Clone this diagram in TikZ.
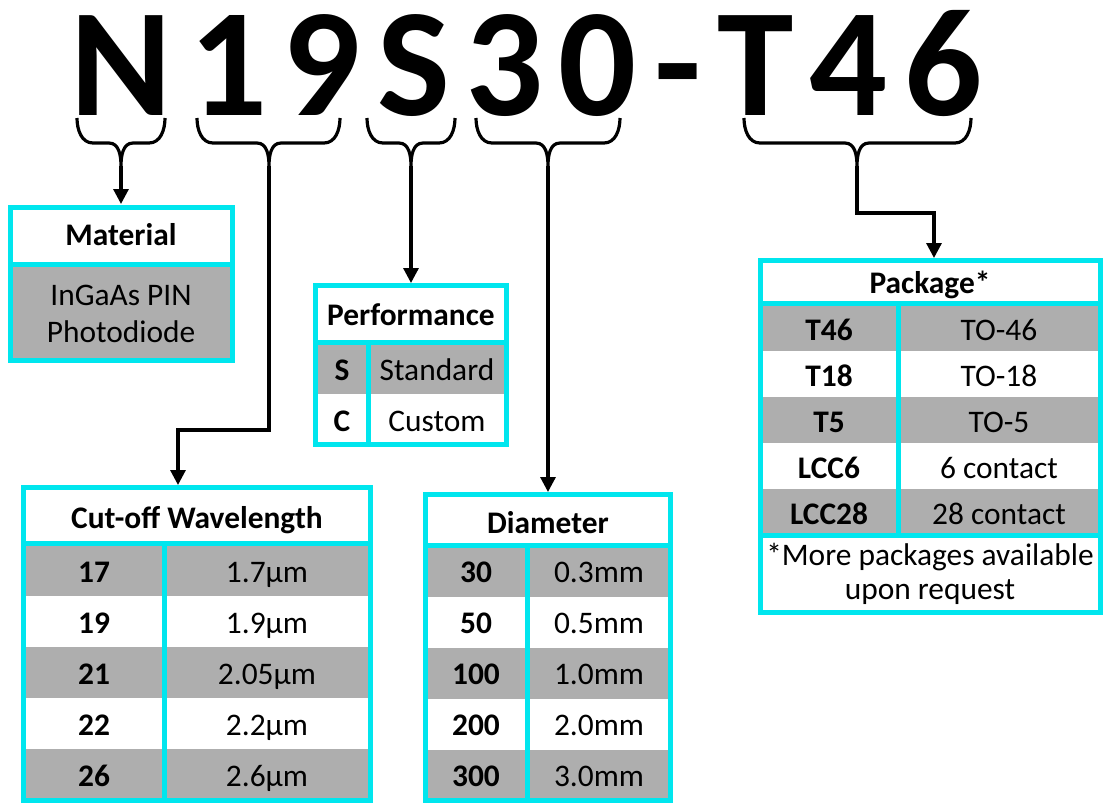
\documentclass[tikz,border=0pt]{standalone}
\usepackage{fontspec}
\setmainfont{Carlito}
\usetikzlibrary{arrows.meta}
\definecolor{boxcyan}{RGB}{0,230,238}
\definecolor{rowgray}{RGB}{174,174,174}
\tikzset{
  frame/.style={draw=boxcyan,line width=2.5pt},
  lbl/.style={anchor=base,inner sep=0pt,font=\fontsize{15.7}{18.8}\selectfont},
  key/.style={lbl,font=\fontsize{15.7}{18.8}\selectfont\bfseries},
  code/.style={anchor=base,inner sep=0pt,font=\fontsize{77}{80}\selectfont\bfseries},
  link/.style={line width=1.6pt,-{Triangle[width=7.5pt,length=7.5pt]}},
  bracket/.style={line width=1.6pt}
}
\newcommand{\partbrace}[4]{%
  \draw[bracket] (#2,118) to[out=-90,in=180] (#2+16,143) -- (#4-12,143)
    to[out=0,in=90] (#4,166) to[out=90,in=180] (#4+12,143) -- (#3-16,143)
    to[out=0,in=-90] (#3,118);
  \coordinate (#1) at (#4,166);}
\begin{document}
\begin{tikzpicture}[x=0.5pt,y=-0.5pt]
	\useasboundingbox (0,0) rectangle (1105,804);
	\foreach \ch/\cx [count=\i] in {N/121.5,1/228.5,9/322,S/414,3/505,0/598,-/678,T/756,4/849,6/944}
		\node[code] (c\i) at (\cx,115) {\ch};
	\partbrace{tipN}{77}{165}{121}
	\partbrace{tip19}{197}{340}{269}
	\partbrace{tipS}{367}{455}{411}
	\partbrace{tip30}{476}{620}{548}
	\partbrace{tipT}{744}{971}{857}
	% material
	\fill[rowgray] (10,264) rectangle (232,360);
	\draw[frame] (10,207) rectangle (232,360) (10,264) -- (232,264);
	\node[key] (mat) at (121,245) {Material};
	\node[lbl] (mat1) at (121,305) {InGaAs PIN};
	\node[lbl] (mat2) at (121,342) {Photodiode};
	% performance
	\fill[rowgray] (315.5,344) rectangle (506.5,394);
	\draw[frame] (315.5,285.5) rectangle (506.5,444.5) (315.5,342) -- (506.5,342) (368,342) -- (368,444.5);
	\node[key] (perf) at (411,325) {Performance};
	\node[key] (perf1) at (342,380) {S};
	\node[lbl] (perfv1) at (437,380) {Standard};
	\node[key] (perf2) at (342,431) {C};
	\node[lbl] (perfv2) at (437,431) {Custom};
	% cut-off wavelength
	\foreach \code/\val [count=\i] in {17/1.7µm,19/1.9µm,21/2.05µm,22/2.2µm,26/2.6µm}{
		\ifodd\i \fill[rowgray] (23.5,{545+51*(\i-1)}) rectangle (370.5,{596+51*(\i-1)}); \fi
		\node[key] (cut\i) at (94,{582+51*(\i-1)}) {\code};
		\node[lbl] (cutv\i) at (267,{582+51*(\i-1)}) {\val};
	}
	\draw[frame] (23.5,487.5) rectangle (370.5,800.5) (23.5,543) -- (370.5,543) (164,543) -- (164,800.5);
	\node[key] (cut) at (197,528) {Cut-off Wavelength};
	% diameter
	\foreach \code/\val [count=\i] in {30/0.3mm,50/0.5mm,100/1.0mm,200/2.0mm,300/3.0mm}{
		\ifodd\i \fill[rowgray] (425.5,{546+51*(\i-1)}) rectangle (670.5,{597+51*(\i-1)}); \fi
		\node[key] (dia\i) at (476,{582+51*(\i-1)}) {\code};
		\node[lbl] (diav\i) at (599,{582+51*(\i-1)}) {\val};
	}
	\draw[frame] (425.5,494.5) rectangle (670.5,800.5) (425.5,545) -- (670.5,545) (527,545) -- (527,800.5);
	\node[key] (dia) at (548,533) {Diameter};
	% package
	\foreach \code/\val [count=\i] in {T46/TO-46,T18/TO-18,T5/TO-5,LCC6/6 contact,LCC28/28 contact}{
		\ifodd\i \fill[rowgray] (760.5,{305+46*(\i-1)}) rectangle (1100.5,{351+46*(\i-1)}); \fi
		\node[key] (pkg\i) at (829,{340+46*(\i-1)}) {\code};
		\node[lbl] (pkgv\i) at (999,{340+46*(\i-1)}) {\val};
	}
	\draw[frame] (760.5,260.5) rectangle (1100.5,612.5) (760.5,303.5) -- (1100.5,303.5)
		(760.5,535) -- (1100.5,535) (898,303.5) -- (898,535);
	\node[key] (pkg) at (930,293) {Package*};
	\node[lbl] (note1) at (930,565) {*More packages available};
	\node[lbl] (note2) at (930,599) {upon request};
	% connectors
	\coordinate (matin) at (121,204);
	\coordinate (bend19) at (269,430);
	\coordinate (cutin) at (178,485);
	\coordinate (perfin) at (411,283);
	\coordinate (diain) at (548,492);
	\coordinate (bendT) at (857,213);
	\coordinate (pkgin) at (934,258);
	\draw[link] (tipN) -- (matin);
	\draw[link] (tip19) -- (bend19) -| (cutin);
	\draw[link] (tipS) -- (perfin);
	\draw[link] (tip30) -- (diain);
	\draw[link] (tipT) -- (bendT) -| (pkgin);
\end{tikzpicture}
\end{document}
